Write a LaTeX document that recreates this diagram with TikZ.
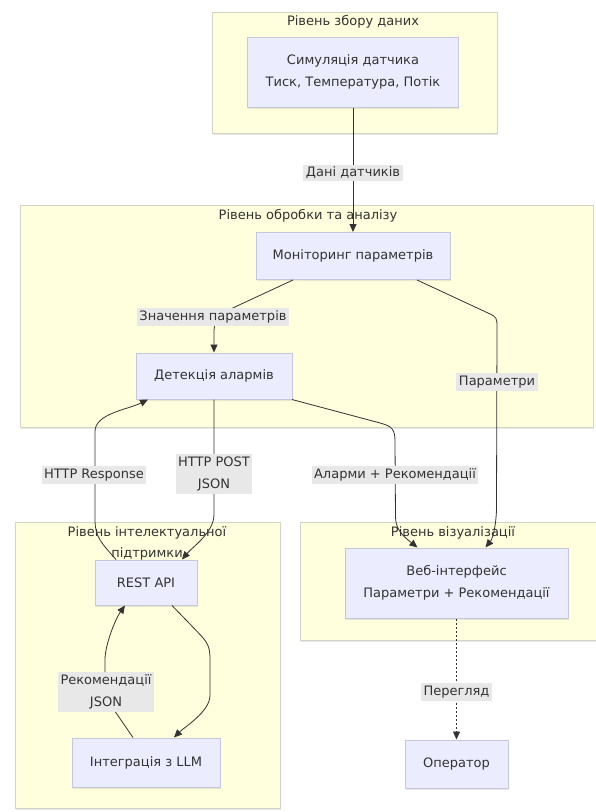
\documentclass[tikz,border=0pt]{standalone}
\usepackage{fontspec}
\setmainfont{DejaVu Sans}
\usetikzlibrary{arrows.meta,calc,shadows}
\definecolor{clfill}{HTML}{FFFFDE}
\definecolor{cldraw}{HTML}{D4D4C6}
\definecolor{ndfill}{HTML}{ECECFF}
\definecolor{nddraw}{HTML}{C6C6DE}
\definecolor{ink}{HTML}{333333}
\definecolor{lblbg}{HTML}{E8E8E8}
\tikzset{
  cluster/.style={draw=cldraw, fill=clfill, line width=1pt, inner sep=0pt,
    drop shadow={opacity=0.18, shadow xshift=0.6pt, shadow yshift=-1.5pt}},
  ctitle/.style={font=\fontsize{13}{21}\selectfont, text=ink, align=center, inner sep=1pt},
  box/.style={draw=nddraw, fill=ndfill, line width=1pt, align=center, text=ink,
    font=\fontsize{13}{22}\selectfont, inner sep=0pt,
    drop shadow={opacity=0.18, shadow xshift=0.6pt, shadow yshift=-1.5pt}},
  conn/.style={draw=ink, line width=0.8pt, -{Triangle[length=8pt,width=7pt]}},
  elabel/.style={fill=lblbg, text=ink, align=center, inner sep=2.5pt,
    font=\fontsize{13}{22}\selectfont}
}
\begin{document}
\begin{tikzpicture}[x=1pt,y=-1pt]
\useasboundingbox[fill=white] (0,0) rectangle (596,812);

% clusters
\node[cluster, anchor=north west, minimum width=285pt, minimum height=121pt] (c1) at (212,12) {};
\node[cluster, anchor=north west, minimum width=573pt, minimum height=222pt] (c2) at (20,205) {};
\node[cluster, anchor=north west, minimum width=265pt, minimum height=286pt] (c3) at (15,522) {};
\node[cluster, anchor=north west, minimum width=306pt, minimum height=118pt] (c4) at (300,522) {};

\node[ctitle] (t1) at (353,22) {Рівень збору даних};
\node[ctitle] (t2) at (308,216) {Рівень обробки та аналізу};
\node[ctitle] (t3) at (147,543) {Рівень інтелектуальної\\підтримки};
\node[ctitle] (t4) at (453,533) {Рівень візуалізації};

% nodes
\node[box, minimum width=211pt, minimum height=70pt] (sens) at (353,72) {Симуляція датчика\\Тиск, Температура, Потік};
\node[box, minimum width=194pt, minimum height=47pt] (mon) at (353,256) {Моніторинг параметрів};
\node[box, minimum width=156pt, minimum height=46pt] (det) at (214,376) {Детекція алармів};
\node[box, minimum width=102pt, minimum height=45pt] (rest) at (146,582.5) {REST API};
\node[box, minimum width=148pt, minimum height=49pt] (llm) at (146,762.5) {Інтеграція з LLM};
\node[box, minimum width=223pt, minimum height=70pt] (web) at (456.5,583) {Веб-інтерфейс\\Параметри + Рекомендації};
\node[box, minimum width=103pt, minimum height=48pt] (op) at (456.5,764) {Оператор};

% edges
\draw[conn] (sens.south) -- (mon.north);
\draw[conn] ($(mon.south)+(-60,0)$) -- ++(-56,26)
  .. controls +(-13,6) and +(0,-12) .. ($(det.north)+(0,-22)$) -- (det.north);
\draw[conn] ($(mon.south)+(64,0)$) -- ++(71,33)
  .. controls +(9,4) and +(0,-10) .. ($(mon.south)+(144,48)$)
  -- ($(web.north)+(40,-40)$)
  .. controls +(0,14) and +(8,-10) .. ($(web.north)+(29,0)$);
\draw[conn] ($(det.south)+(78,0)$) -- ++(90,24)
  .. controls +(10,3) and +(0,-12) .. ($(det.south)+(181,42)$)
  -- ($(web.north)+(-61,-30)$)
  .. controls +(0,14) and +(-10,-8) .. ($(web.north)+(-39,0)$);
\draw[conn] (det.south) -- ($(rest.north)+(68,-45)$)
  .. controls +(0,18) and +(10,-12) .. ($(rest.north)+(36,0)$);
\draw[conn] ($(rest.north)+(-30,0)$)
  .. controls +(-14,-16) and +(0,18) .. ($(rest.north)+(-51,-40)$)
  -- ($(det.south)+(-119,32)$)
  .. controls +(0,-18) and +(-20,10) .. ($(det.south)+(-66,0)$);
\draw[conn] ($(rest.south)+(26,0)$) -- ++(29,30)
  .. controls +(7,8) and +(0,-12) .. ($(llm.north)+(64,-78)$)
  -- ($(llm.north)+(64,-42)$)
  .. controls +(0,16) and +(10,-10) .. ($(llm.north)+(28,0)$);
\draw[conn] ($(llm.north)+(-13,0)$) -- ++(-22,-32)
  .. controls +(-5,-8) and +(0,12) .. ($(llm.north)+(-41,-52)$)
  -- ($(llm.north)+(-41,-78)$)
  .. controls +(0,-14) and +(-10,14) .. ($(rest.south)+(-21,0)$);
\draw[conn, dash pattern=on 2pt off 2pt] (web.south) -- (op.north);

% edge labels
\node[elabel] (l1) at (353,173) {Дані датчиків};
\node[elabel] (l2) at (213,317) {Значення параметрів};
\node[elabel] (l3) at (497,382) {Параметри};
\node[elabel] (l4) at (395,475) {Аларми + Рекомендації};
\node[elabel] (l5) at (214,474) {HTTP POST\\JSON};
\node[elabel] (l6) at (94,475) {HTTP Response};
\node[elabel] (l7) at (106,692) {Рекомендації\\JSON};
\node[elabel] (l8) at (456.5,692) {Перегляд};
\end{tikzpicture}
\end{document}
